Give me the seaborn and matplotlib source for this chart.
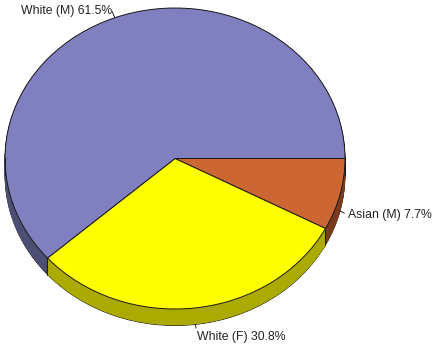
import numpy as np
import matplotlib
matplotlib.use("Agg")
import matplotlib.pyplot as plt
import seaborn as sns

labels = ["Asian (M)", "White (F)", "White (M)"]
shares = [7.7, 30.8, 61.5]
top_colors = ["#CC6633", "#FFFF00", "#8080C0"]
side_colors = ["#7A3A1C", "#ABAA00", "#4C4E74"]

sns.set_theme(style="white")
plt.rcParams['font.family'] = ['Liberation Sans', 'DejaVu Sans']

W, H = 434, 347
cx, cy, rx, ry = 175, 158.5, 170, 150.5
depth_px = 16.5

fig = plt.figure(figsize=(W / 100, H / 100), dpi=100)
ax = fig.add_axes([0, 0, 1, 1])
depth = depth_px / ry

# side (depth) layers
offsets = np.linspace(depth, 0, 30, endpoint=False)
for i, off in enumerate(offsets):
    wedges, _ = ax.pie(shares, colors=side_colors, startangle=0, counterclock=False,
                       center=(0, -off), radius=1,
                       wedgeprops=dict(linewidth=0.6))
    for w, c in zip(wedges, side_colors):
        w.set_edgecolor('#1a1a1a' if i == 0 else c)
        if i != 0:
            w.set_linewidth(0.4)

# top face
wedges, _ = ax.pie(shares, colors=top_colors, startangle=0, counterclock=False,
                   center=(0, 0), radius=1,
                   wedgeprops=dict(edgecolor='#1a1a1a', linewidth=0.7))

# vertical edges at front slice boundaries and silhouette
bounds = [w.theta1 for w in wedges] + [w.theta2 for w in wedges] + [0, 180]
for t in set(np.round(bounds, 4)):
    tr = np.deg2rad(t)
    if np.sin(tr) <= 1e-9:
        x, y = np.cos(tr), np.sin(tr)
        ax.plot([x, x], [y, y - depth], color='#1a1a1a', lw=0.7, zorder=5)

# labels
mids = [(w.theta1 + w.theta2) / 2 for w in wedges]
text_off = {"Asian (M)": ((5.5, -2.6), 'left', 'center', (0, 0.5)),
            "White (F)": ((1.6, -5.0), 'left', 'top', (0, 0.8)),
            "White (M)": ((-2.0, 4.5), 'right', 'center', (1, 0.5))}
for lab, sh, m in zip(labels, shares, mids):
    mr = np.deg2rad(m)
    x, y = np.cos(mr), np.sin(mr)
    if y < 0:
        y = y - depth
    off, ha, va, rp = text_off[lab]
    ax.annotate(f"{lab} {sh:.1f}%", xy=(x, y), xytext=off, textcoords='offset points',
                ha=ha, va=va, fontsize=8.8, color='#222222', zorder=6,
                arrowprops=dict(arrowstyle='-', lw=0.7, color='#222222',
                                shrinkA=0, shrinkB=0, relpos=rp))

ax.set_aspect('auto')
ax.set_xlim(-cx / rx, (W - cx) / rx)
ax.set_ylim(-(H - cy) / ry, cy / ry)
ax.axis('off')
fig.savefig("out.png", dpi=100, facecolor='white')
